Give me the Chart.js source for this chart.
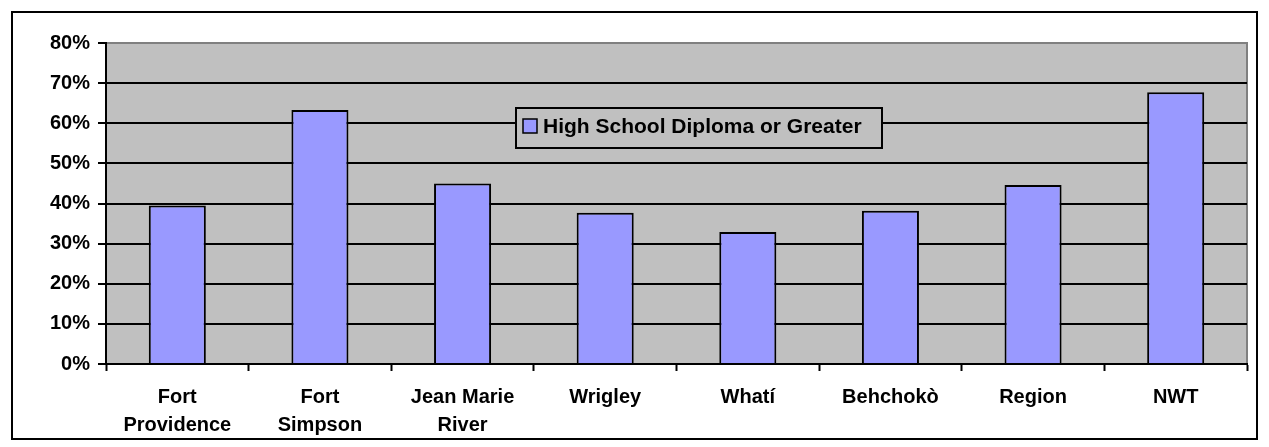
<!DOCTYPE html>
<html>
<head>
<meta charset="utf-8">
<script src="https://cdn.jsdelivr.net/npm/chart.js@4/dist/chart.umd.min.js"></script>
<style>
  html, body { margin: 0; padding: 0; background: #fff; }
  #wrap { position: relative; width: 1269px; height: 447px; }
</style>
</head>
<body>
<div id="wrap"><canvas id="miGrafica"></canvas></div>
<script>
const categories = [['Fort', 'Providence'], ['Fort', 'Simpson'], ['Jean Marie', 'River'], 'Wrigley', 'Whatí', 'Behchokò', 'Region', 'NWT'];
const diplomaShare = [39.5, 63.3, 45.0, 37.7, 32.9, 38.2, 44.6, 67.7];
const seriesName = 'High School Diploma or Greater';
const yMin = 0;
const yMax = 80;
const yStep = 10;

Chart.defaults.font.family = '"Liberation Sans", Arial, sans-serif';
Chart.defaults.font.weight = 'bold';
Chart.defaults.color = '#000';

// gray plot area + outer frame, and the legend box inside the plot
const fondo = {
  id: 'fondo',
  beforeDraw(chart) {
    const { ctx, chartArea: a } = chart;
    ctx.save();
    ctx.fillStyle = '#fff';
    ctx.fillRect(0, 0, chart.width, chart.height);
    ctx.strokeStyle = '#000';
    ctx.lineWidth = 2;
    ctx.strokeRect(12, 12, 1245, 427);
    ctx.fillStyle = '#c0c0c0';
    ctx.fillRect(a.left, a.top, a.right - a.left, a.bottom - a.top);
    ctx.strokeStyle = '#808080';
    ctx.beginPath();
    ctx.moveTo(a.left, a.top);
    ctx.lineTo(a.right, a.top);
    ctx.lineTo(a.right, a.bottom);
    ctx.stroke();
    ctx.restore();
  },
  afterDraw(chart) {
    const ctx = chart.ctx;
    ctx.save();
    ctx.fillStyle = '#c0c0c0';
    ctx.fillRect(516, 108, 366, 40);
    ctx.strokeStyle = '#000';
    ctx.lineWidth = 2;
    ctx.strokeRect(516, 108, 366, 40);
    ctx.fillStyle = '#9999ff';
    ctx.fillRect(523, 119, 14, 14);
    ctx.lineWidth = 1.5;
    ctx.strokeRect(523, 119, 14, 14);
    ctx.fillStyle = '#000';
    ctx.font = 'bold 21px "Liberation Sans", Arial, sans-serif';
    ctx.textBaseline = 'middle';
    ctx.fillText(chart.data.datasets[0].label, 543, 127);
    ctx.restore();
  }
};

const miGrafica = document.getElementById('miGrafica').getContext('2d');
const verGrafica = new Chart(miGrafica, {
  type: 'bar',
  data: {
    labels: categories,
    datasets: [{
      label: seriesName,
      data: diplomaShare,
      backgroundColor: '#9999ff',
      borderColor: '#000',
      borderWidth: 2,
      barPercentage: 0.4,
      categoryPercentage: 1
    }]
  },
  options: {
    responsive: true,
    maintainAspectRatio: false,
    animation: false,
    layout: { padding: { top: 43, right: 22, bottom: 0, left: 0 } },
    plugins: {
      legend: { display: false },
      tooltip: { enabled: false }
    },
    scales: {
      x: {
        afterFit: (scale) => { scale.height = 83; },
        grid: {
          offset: true,
          drawOnChartArea: false,
          drawTicks: true,
          tickLength: 7,
          tickColor: '#000',
          tickWidth: 2
        },
        border: { display: true, color: '#000', width: 2 },
        ticks: {
          font: { size: 20, weight: 'bold', lineHeight: 1.4 },
          padding: 12,
          maxRotation: 0,
          autoSkip: false
        }
      },
      y: {
        min: yMin,
        max: yMax,
        afterFit: (scale) => { scale.width = 106; },
        grid: {
          color: (c) => (c.tick && c.tick.value === yMax ? '#808080' : '#000'),
          lineWidth: 2,
          tickLength: 8,
          tickColor: '#000',
          tickWidth: 2
        },
        border: { display: true, color: '#000', width: 2 },
        ticks: {
          stepSize: yStep,
          font: { size: 20, weight: 'bold' },
          padding: 8,
          callback: (v) => v + '%'
        }
      }
    }
  },
  plugins: [fondo]
});
</script>
</body>
</html>
